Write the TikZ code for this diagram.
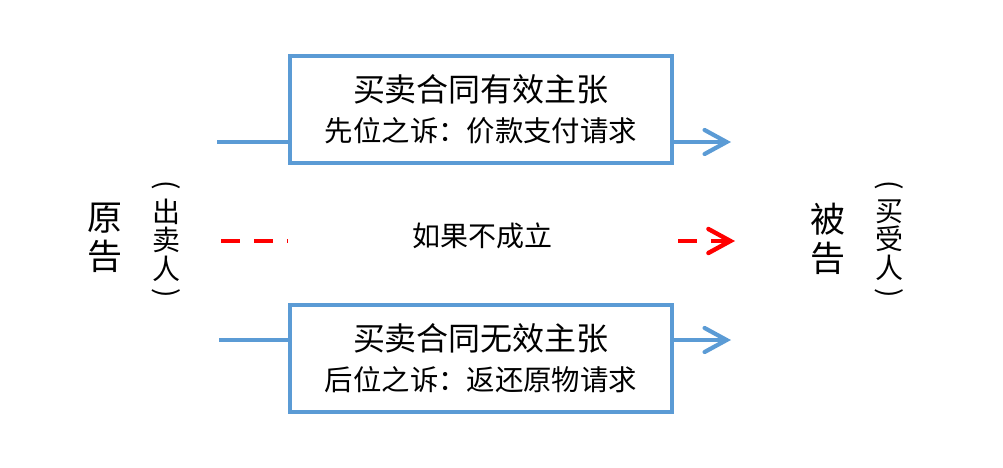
\documentclass[tikz,border=0pt]{standalone}
\usepackage{fontspec}
\newfontfamily\cjk{Noto Sans CJK SC}
\usetikzlibrary{arrows.meta,positioning,calc}
\definecolor{ClaimBlue}{HTML}{5B9BD5}
\definecolor{FailRed}{HTML}{FF0000}
\newcommand{\ClaimText}[2]{%
  \fontsize{16}{20}\selectfont #1\\\fontsize{14.2}{20}\selectfont #2%
}

\begin{document}
\begin{tikzpicture}[x=0.5pt,y=-0.5pt,
  claim/.style={draw=ClaimBlue,line width=1.6pt,minimum width=191pt,minimum height=53.5pt,
    inner sep=0pt,align=center,font=\cjk\fontsize{16}{20}\selectfont},
  party/.style={align=center,inner sep=0pt,font=\cjk\fontsize{17.5}{19.5}\selectfont},
  role/.style={align=center,inner sep=0pt,font=\cjk\fontsize{14}{14.2}\selectfont},
  paren/.style={inner sep=0pt,rotate=-90,font=\cjk\fontsize{14}{14}\selectfont},
  flow/.style={ClaimBlue,line width=2.1pt,-{Straight Barb[length=11pt,width=12pt,line cap=round]}},
  plain/.style={ClaimBlue,line width=2.1pt},
  fail/.style={FailRed,line width=2.2pt,dash pattern=on 9.5pt off 7pt}]
\useasboundingbox (0,0) rectangle (1003,467);
\node[claim] (valid) at (481,109.5) {\ClaimText{买卖合同有效主张}{先位之诉：价款支付请求}};
\node[claim] (void) at (481,358.5) {\ClaimText{买卖合同无效主张}{后位之诉：返还原物请求}};
\node[font=\cjk\fontsize{14}{14}\selectfont] (cond) at (482,236) {如果不成立};
\node[party] (plaintiff) at (105,238) {原\\告};
\node[role] (seller) at (166.5,240) {出\\卖\\人};
\node[paren] (sellerA) at (166.5,185) {(};
\node[paren] (sellerB) at (166.5,293) {)};
\node[party] (defendant) at (828,239) {被\\告};
\node[role] (buyer) at (889,240) {买\\受\\人};
\node[paren] (buyerA) at (889,185) {(};
\node[paren] (buyerB) at (889,293) {)};
\coordinate (vin) at (217,142);
\coordinate (vout) at (731,142);
\coordinate (din) at (219,340);
\coordinate (dout) at (731,340);
\coordinate (fin) at (221,241);
\coordinate (fmid) at (678,241);
\coordinate (fout) at (735,241);
\draw[plain] (vin) -- (vin -| valid.west);
\draw[flow] (valid.east |- vin) -- (vout);
\draw[plain] (din) -- (din -| void.west);
\draw[flow] (void.east |- din) -- (dout);
\draw[fail] (fin) -- (fin -| valid.west);
\draw[fail,-{Straight Barb[length=11pt,width=12pt,line cap=round]}] (fmid) -- (fout);
\end{tikzpicture}
\end{document}
